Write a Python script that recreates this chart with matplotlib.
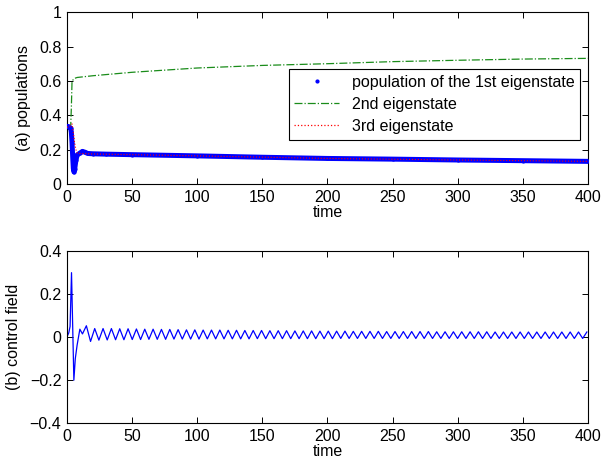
import matplotlib
matplotlib.use("Agg")
import matplotlib.pyplot as plt
from matplotlib.lines import Line2D
import numpy as np

plt.rcParams["font.family"] = ["Liberation Sans", "DejaVu Sans"]
plt.rcParams["font.size"] = 11.5

# --- (a) populations ---
t_p1 = [0, 1, 2, 3, 3.5, 4, 4.5, 5, 5.5, 6, 7, 8, 10, 12, 14, 16, 20, 30,
        50, 100, 150, 200, 250, 300, 350, 400]
p1 = [0.335, 0.335, 0.33, 0.325, 0.30, 0.24, 0.16, 0.09, 0.07, 0.085, 0.14,
      0.17, 0.18, 0.19, 0.185, 0.178, 0.176, 0.174, 0.171, 0.164, 0.156,
      0.149, 0.145, 0.14, 0.136, 0.132]

t_p2 = [0, 3, 3.5, 4, 6, 8, 20, 50, 100, 150, 200, 250, 300, 350, 400]
p2 = [0.33, 0.34, 0.45, 0.60, 0.615, 0.62, 0.63, 0.65, 0.675, 0.69, 0.70,
      0.712, 0.72, 0.727, 0.731]

t_p3 = [0, 3, 4, 5, 6, 7, 8, 10, 20, 50, 100, 200, 300, 400]
p3 = [0.33, 0.34, 0.35, 0.30, 0.24, 0.20, 0.18, 0.178, 0.175, 0.171, 0.164,
      0.149, 0.14, 0.132]

# --- (b) control field ---
t_field_start = [0, 1.5, 2.5, 3.6, 4.5, 5.4, 6.5, 7.9, 10, 12, 15]
field_start = [0, 0.02, 0.05, 0.30, 0.05, -0.20, -0.10, -0.037, 0.037,
               0.015, 0.053]

field_troughs = [
    -0.020, -0.014, -0.013, -0.012, -0.012, -0.011, -0.011, -0.010, -0.010, -0.010,
    -0.009, -0.009, -0.009, -0.009, -0.008, -0.008, -0.008, -0.008, -0.008, -0.008,
    -0.007, -0.007, -0.007, -0.007, -0.007, -0.007, -0.007, -0.007, -0.007, -0.007,
    -0.006, -0.006, -0.006, -0.006, -0.006, -0.006, -0.006, -0.006, -0.006, -0.006,
    -0.006, -0.006, -0.006, -0.006, -0.006, -0.006, -0.006, -0.006, -0.006, -0.006,
    -0.006, -0.006, -0.006, -0.006, -0.006, -0.006, -0.006, -0.006, -0.006, -0.006,
]
field_peaks = [
    0.040, 0.040, 0.040, 0.039, 0.039, 0.038, 0.037, 0.037, 0.036, 0.036,
    0.035, 0.034, 0.034, 0.033, 0.033, 0.033, 0.032, 0.032, 0.031, 0.031,
    0.031, 0.030, 0.030, 0.030, 0.029, 0.029, 0.029, 0.028, 0.028, 0.028,
    0.028, 0.027, 0.027, 0.027, 0.027, 0.026, 0.026, 0.026, 0.026, 0.026,
    0.026, 0.025, 0.025, 0.025, 0.025, 0.025, 0.025, 0.025, 0.024, 0.024,
    0.024, 0.024, 0.024, 0.024, 0.024, 0.024, 0.024, 0.024, 0.024, 0.024,
]
t_trough0, half_period = 18.2, 3.2

t_reg = t_trough0 + half_period * np.arange(2 * len(field_peaks))
f_reg = np.empty(2 * len(field_peaks))
f_reg[0::2] = field_troughs
f_reg[1::2] = field_peaks
t_field = np.concatenate([t_field_start, t_reg])
field = np.concatenate([field_start, f_reg])

GREEN = "#1a8c1a"

fig = plt.figure(figsize=(6.02, 4.66), dpi=100)
ax1 = fig.add_axes([0.111, 0.605, 0.866, 0.369])
ax2 = fig.add_axes([0.111, 0.092, 0.866, 0.369])

ax1.plot(t_p2, p2, color=GREEN, linestyle="-.", linewidth=0.9, zorder=2)
ax1.plot(t_p1, p1, color="blue", linestyle="-", linewidth=3.6, zorder=3)
ax1.plot(t_p1, p1, color="blue", linestyle="none", marker=".", markersize=4,
         zorder=3)
ax1.plot(t_p3, p3, color="red", linestyle=":", linewidth=0.8, zorder=4)

handles = [
    Line2D([], [], color="blue", linestyle="none", marker=".", markersize=4),
    Line2D([], [], color=GREEN, linestyle="-.", linewidth=0.9),
    Line2D([], [], color="red", linestyle=":", linewidth=0.9),
]
labels = ["population of the 1st eigenstate", "2nd eigenstate", "3rd eigenstate"]
leg = ax1.legend(handles, labels, loc="upper left", bbox_to_anchor=(0.426, 0.669),
                 borderaxespad=0, fancybox=False, edgecolor="black",
                 framealpha=1, handlelength=2.8, labelspacing=0.45,
                 fontsize=11.5, borderpad=0.35)
leg.get_frame().set_linewidth(0.8)

ax1.set_xlim(0, 400)
ax1.set_ylim(0, 1)
ax1.set_xticks(np.arange(0, 401, 50))
ax1.set_yticks([0, 0.2, 0.4, 0.6, 0.8, 1])
ax1.set_yticklabels(["0", "0.2", "0.4", "0.6", "0.8", "1"])
ax1.set_xlabel("time", labelpad=0)
ax1.set_ylabel("(a) populations", labelpad=6)

ax2.plot(t_field, field, color="blue", linewidth=0.9)
ax2.set_xlim(0, 400)
ax2.set_ylim(-0.4, 0.4)
ax2.set_xticks(np.arange(0, 401, 50))
ax2.set_yticks([-0.4, -0.2, 0, 0.2, 0.4])
ax2.set_yticklabels(["\u22120.4", "\u22120.2", "0", "0.2", "0.4"])
ax2.set_xlabel("time", labelpad=0)
ax2.set_ylabel("(b) control field", labelpad=6)

for ax in (ax1, ax2):
    ax.tick_params(direction="in", top=True, right=True, length=4,
                   width=0.7, labelsize=11.5, pad=4)
    for s in ax.spines.values():
        s.set_linewidth(0.8)

fig.savefig("out.png", dpi=100)
